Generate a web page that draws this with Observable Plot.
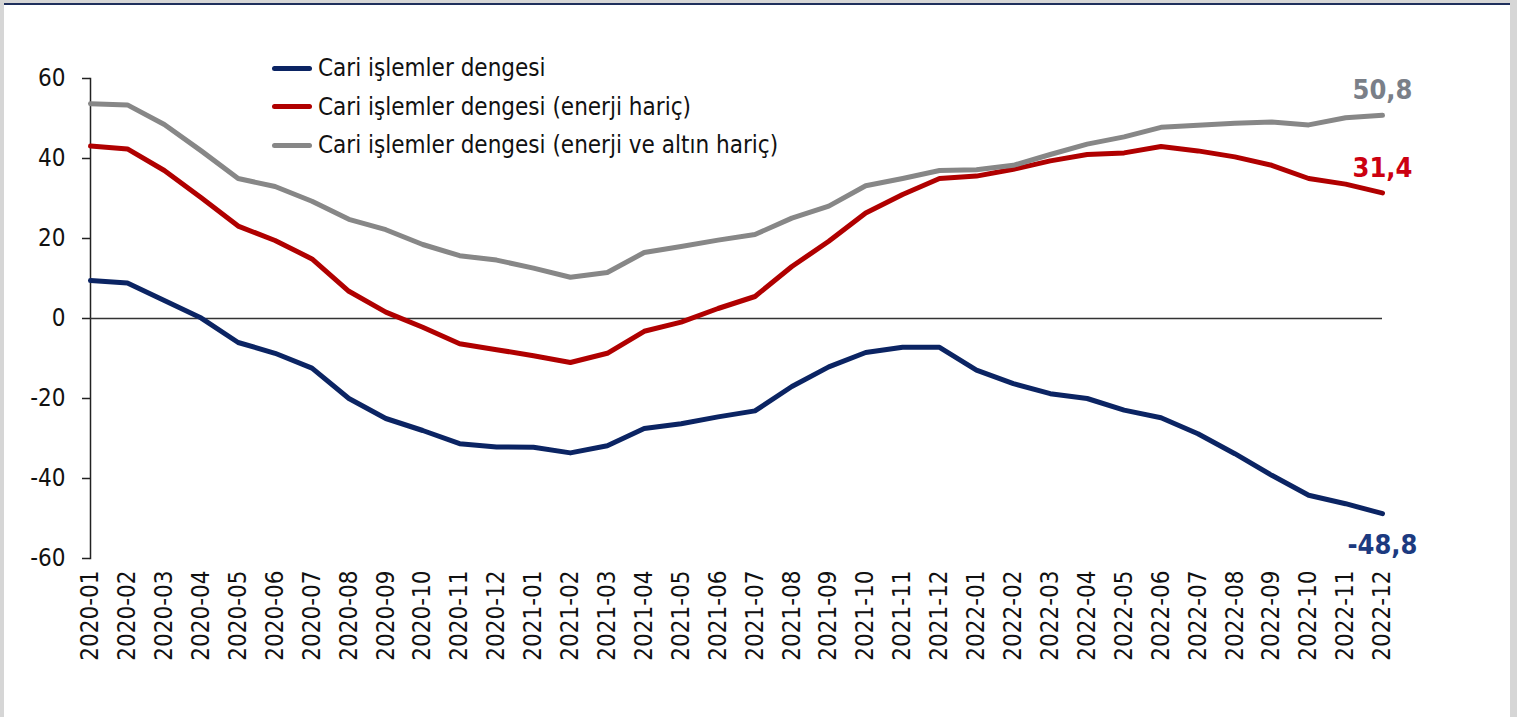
<!DOCTYPE html>
<html><head><meta charset="utf-8">
<script src="https://cdn.jsdelivr.net/npm/d3@7"></script>
<script src="https://cdn.jsdelivr.net/npm/@observablehq/plot@0.6"></script>
<style>
html,body{margin:0;padding:0;background:#d6d6d6;}
#wrap{position:relative;width:1517px;height:717px;overflow:hidden;}
#panel{position:absolute;left:4px;top:3px;width:1506px;height:714px;background:#fff;border-top:2px solid #1f2f5c;}
#chart{position:absolute;left:0;top:0;}
#legend{position:absolute;left:272px;top:49px;font-family:"DejaVu Sans Condensed","Liberation Sans",sans-serif;font-size:24px;color:#111;}
.item{display:flex;align-items:center;height:38.5px;white-space:nowrap;}
.sw{width:40px;height:5px;border-radius:2.5px;margin-right:6px;}
</style></head>
<body>
<div id="wrap"><div id="panel"></div><div id="chart"></div><div id="legend"></div></div>
<script>
const FONT = '"DejaVu Sans Condensed","Liberation Sans",sans-serif';

const months = [
  "2020-01","2020-02","2020-03","2020-04","2020-05","2020-06","2020-07","2020-08","2020-09","2020-10","2020-11","2020-12",
  "2021-01","2021-02","2021-03","2021-04","2021-05","2021-06","2021-07","2021-08","2021-09","2021-10","2021-11","2021-12",
  "2022-01","2022-02","2022-03","2022-04","2022-05","2022-06","2022-07","2022-08","2022-09","2022-10","2022-11","2022-12"
];

const cariDenge = [9.5,8.9,4.5,0.1,-6.0,-8.7,-12.4,-20.0,-25.0,-28.0,-31.3,-32.1,
  -32.2,-33.6,-31.8,-27.5,-26.3,-24.6,-23.1,-17.0,-12.1,-8.5,-7.2,-7.2,
  -12.9,-16.3,-18.8,-20.0,-22.9,-24.8,-28.8,-33.8,-39.2,-44.2,-46.3,-48.8];

const enerjiHaric = [43.1,42.4,37.0,30.2,23.1,19.5,14.9,6.8,1.6,-2.2,-6.3,-7.8,
  -9.3,-11.0,-8.7,-3.2,-0.9,2.5,5.5,13.0,19.3,26.4,31.0,35.0,
  35.6,37.3,39.4,41.0,41.4,43.0,41.9,40.4,38.3,35.0,33.6,31.4];

const enerjiAltinHaric = [53.7,53.4,48.5,41.9,35.0,33.0,29.3,24.8,22.2,18.5,15.7,14.6,
  12.6,10.3,11.5,16.5,18.0,19.6,21.0,25.1,28.1,33.2,35.0,37.0,
  37.2,38.3,41.0,43.6,45.4,47.8,48.3,48.8,49.1,48.4,50.2,50.8];

const seriesNames = ["Cari işlemler dengesi","Cari işlemler dengesi (enerji hariç)","Cari işlemler dengesi (enerji ve altın hariç)"];
const seriesValues = [cariDenge, enerjiHaric, enerjiAltinHaric];
const lineColors = ["#0b2463","#b00000","#878787"];
const labelColors = ["#1c3a80","#cc0010","#7a7f88"];
const labelOffsets = [32,-25,-25];
const yTicks = [-60,-40,-20,0,20,40,60];

const fmt = v => v.toFixed(1).replace(".", ",");

const series = seriesNames.map((name, k) => ({
  name, color: lineColors[k], labelColor: labelColors[k], dy: labelOffsets[k],
  rows: months.map((m, i) => ({month: m, value: seriesValues[k][i]}))
}));

const chart = Plot.plot({
  width: 1517, height: 717,
  marginLeft: 90, marginRight: 135, marginTop: 78, marginBottom: 159,
  style: {background: "transparent", fontFamily: FONT, fontSize: "24px", color: "#111", overflow: "visible"},
  x: {type: "point", domain: months, padding: 0, label: null},
  y: {domain: [-60, 60], label: null},
  marks: [
    Plot.frame({anchor: "left", stroke: "#222", strokeWidth: 1.5}),
    Plot.axisY({ticks: yTicks, tickFormat: d => String(d), tickSize: 8, tickPadding: 17, stroke: "#222", strokeWidth: 1.5, label: null, fontSize: 24, fill: "#111"}),
    Plot.axisX({tickRotate: -90, tickSize: 0, tickPadding: 12, label: null, fontSize: 24, fill: "#111"}),
    Plot.ruleY([0], {stroke: "#333", strokeWidth: 1.5}),
    ...series.map(s => Plot.line(s.rows, {x: "month", y: "value", stroke: s.color, strokeWidth: 5, strokeLinejoin: "round"})),
    ...series.map(s => Plot.text([s.rows[s.rows.length - 1]], {
      x: "month", y: "value", text: d => fmt(d.value), dy: s.dy,
      fill: s.labelColor, fontWeight: "bold", fontSize: 27, fontFamily: FONT
    }))
  ]
});
document.getElementById("chart").appendChild(chart);

const legend = document.getElementById("legend");
series.forEach(s => {
  const it = document.createElement("div"); it.className = "item";
  const sw = document.createElement("span"); sw.className = "sw"; sw.style.background = s.color;
  const tx = document.createElement("span"); tx.textContent = s.name;
  it.appendChild(sw); it.appendChild(tx); legend.appendChild(it);
});
</script>
</body></html>
